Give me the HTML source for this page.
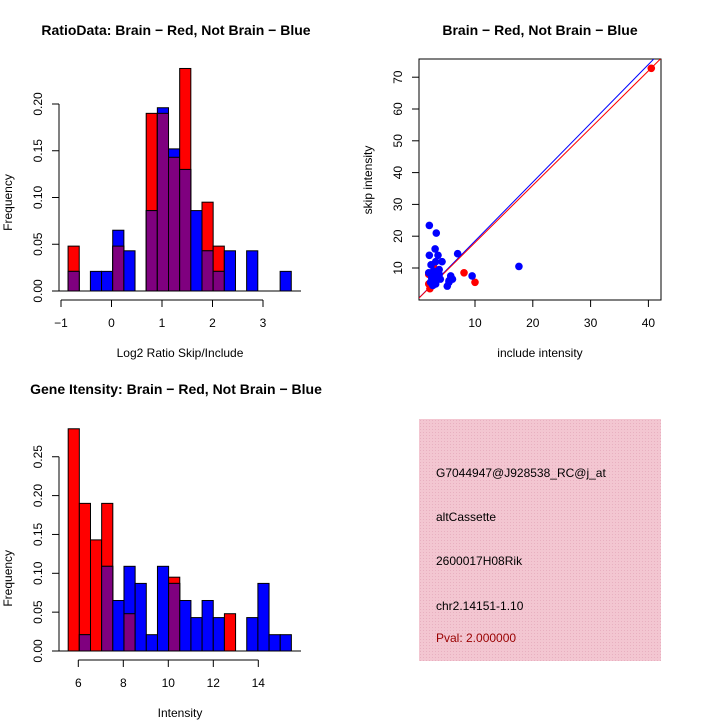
<!DOCTYPE html>
<html><head><meta charset="utf-8"><style>
body{margin:0;background:#fff;}
svg{display:block;font-family:"Liberation Sans",sans-serif;}
</style></head><body>
<svg id="c" width="720" height="720" viewBox="0 0 720 720">
<rect width="720" height="720" fill="#fff"/>
<defs><pattern id="hatch" width="3" height="3" patternUnits="userSpaceOnUse"><rect width="3" height="3" fill="#f3c6d1"/><rect width="1" height="1" fill="#e8b0c0"/></pattern></defs>
<g id="p1"></g>
<g id="p2"></g>
<g id="p3"></g>
<g>
<rect x="419" y="419" width="242" height="242" fill="url(#hatch)"/>
<text x="436" y="477" font-size="12">G7044947@J928538_RC@j_at</text>
<text x="436" y="521" font-size="12">altCassette</text>
<text x="436" y="565" font-size="12">2600017H08Rik</text>
<text x="436" y="610" font-size="12">chr2.14151-1.10</text>
<text x="436" y="642" font-size="12" fill="#990000">Pval: 2.000000</text>
</g>
</svg>
<script>
// Histogram 1 data
const h1Start = -0.86, h1Width = 0.221;
const h1Red  = [0.048,0,0,0,0.048,0,0,0.19,0.19,0.143,0.238,0,0.095,0.048,0,0,0,0,0,0];
const h1Blue = [0.021,0,0.021,0.021,0.065,0.043,0,0.086,0.196,0.152,0.13,0.086,0.043,0.021,0.043,0,0.043,0,0,0.021];
const h1XTicks = [-1,0,1,2,3];
const h1YTicks = ["0.00","0.05","0.10","0.15","0.20"];
// Histogram 2 data
const h2Start = 5.55, h2Width = 0.496;
const h2Red  = [0.286,0.19,0.143,0.19,0,0.048,0,0,0,0.095,0,0,0,0,0.048,0,0,0,0,0];
const h2Blue = [0,0.021,0,0.109,0.065,0.109,0.087,0.021,0.109,0.087,0.065,0.043,0.065,0.043,0,0,0.043,0.087,0.021,0.021];
const h2XTicks = [6,8,10,12,14];
const h2YTicks = ["0.00","0.05","0.10","0.15","0.20","0.25"];
// Scatter data
const blueX = [2.1,3.3,3.1,2.1,3.6,7,3.2,4.3,2.4,3.8,2,3.0,2.5,3.5,2.8,4.0,2.3,3.2,2.7,5.2,5.5,5.8,6.1,5.5,9.5,17.6,3.8,2.8];
const blueY = [23.4,21,16,14,14,14.5,12,12,11,9.5,8.5,8,7,7,6,6.5,5.5,5,4.5,4.3,6,7.5,6.5,5.5,7.5,10.5,8,9];
const redX = [2.2,2.0,2.8,8.1,10,40.5,2.0];
const redY = [3.5,5,10.5,8.5,5.5,72.8,8];
const blueSlope = 1.85, redSlope = 1.8;
const scXTicks = [10,20,30,40];
const scYTicks = [10,20,30,40,50,60,70];

const NS="http://www.w3.org/2000/svg";
function mk(parent,tag,attrs){const e=document.createElementNS(NS,tag);for(const k in attrs)e.setAttribute(k,attrs[k]);parent.appendChild(e);return e;}

function hist(g,start,w,red,blue,xt,yt,ystep,x0,x1,sx,y0,sy,axisY,title,titleY,xlab,xlabY){
  const X=v=>x0+(v-x1)*sx, Y=v=>y0-v*sy;
  for(let i=0;i<red.length;i++){
    const a=X(start+i*w), b=X(start+(i+1)*w);
    const r=red[i], bl=blue[i], m=Math.min(r,bl);
    if(r>0){const e=mk(g,'rect',{x:a,y:Y(r),width:b-a,height:r*sy,fill:'#ff0000',stroke:'#000','stroke-width':1});
      }
    if(bl>0){const e=mk(g,'rect',{x:a,y:Y(bl),width:b-a,height:bl*sy,fill:'#0000ff',stroke:'#000','stroke-width':1});
      }
    if(m>0){const e=mk(g,'rect',{x:a,y:Y(m),width:b-a,height:m*sy,fill:'#7f007f',stroke:'#000','stroke-width':1});
      }
  }
  // y axis
  const ya=mk(g,'line',{x1:59,x2:59,y1:Y(0),y2:Y((yt.length-1)*ystep),stroke:'#000'});
  
  yt.forEach((t,i)=>{const yy=Y(i*ystep);mk(g,'line',{x1:52,x2:59,y1:yy,y2:yy,stroke:'#000'});
    const e=mk(g,'text',{x:0,y:0,'font-size':12,'text-anchor':'middle',transform:`translate(42,${yy}) rotate(-90)`});e.textContent=t;
    });
  // baseline
  mk(g,'line',{x1:52,x2:301,y1:Y(0),y2:Y(0),stroke:'#000'});
  // x axis
  const xa=mk(g,'line',{x1:X(xt[0]),x2:X(xt[xt.length-1]),y1:axisY,y2:axisY,stroke:'#000'});
  
  xt.forEach(t=>{const xx=X(t);mk(g,'line',{x1:xx,x2:xx,y1:axisY,y2:axisY+7,stroke:'#000'});
    const e=mk(g,'text',{x:xx,y:axisY+27,'font-size':12,'text-anchor':'middle'});e.textContent=t<0?'\u2212'+(-t):t;
    });
  const tt=mk(g,'text',{x:176,y:titleY,'font-size':14,'font-weight':'bold','text-anchor':'middle'});tt.textContent=title;
  
  const xl=mk(g,'text',{x:180,y:xlabY,'font-size':12,'text-anchor':'middle'});xl.textContent=xlab;
  
  const yl=mk(g,'text',{x:0,y:0,'font-size':12,'text-anchor':'middle',transform:`translate(12,${(Y(0)+Y(0.2))/2+5}) rotate(-90)`});yl.textContent='Frequency';
  
}
hist(document.getElementById('p1'),h1Start,h1Width,h1Red,h1Blue,h1XTicks,h1YTicks,0.05,61,-1,50.5,291,935,300,'RatioData: Brain \u2212 Red, Not Brain \u2212 Blue',35,'Log2 Ratio Skip/Include',357);
hist(document.getElementById('p3'),h2Start,h2Width,h2Red,h2Blue,h2XTicks,h2YTicks,0.05,78.3,6,22.5,651,777,660,'Gene Itensity: Brain \u2212 Red, Not Brain \u2212 Blue',394,'Intensity',717);

// scatter
(function(){
  const g=document.getElementById('p2');
  const X=v=>417.2+v*5.78, Y=v=>299.8-v*3.18;
  const bx=mk(g,'rect',{x:419,y:59,width:242,height:241,fill:'none',stroke:'#000'});
  
  const cl=mk(g,'clipPath',{id:'scclip'});mk(cl,'rect',{x:419,y:59,width:242,height:241});
  const inner=mk(g,'g',{'clip-path':'url(#scclip)'});
  const lb=mk(inner,'line',{x1:X(0),y1:Y(0),x2:X(50),y2:Y(50*blueSlope),stroke:'#0000ff'});
  
  const lr=mk(inner,'line',{x1:X(0),y1:Y(0),x2:X(50),y2:Y(50*redSlope),stroke:'#ff0000'});
  
  redX.forEach((x,i)=>{const c=mk(g,'circle',{cx:X(x),cy:Y(redY[i]),r:3.8,fill:'#ff0000'});
    });
  blueX.forEach((x,i)=>{const c=mk(g,'circle',{cx:X(x),cy:Y(blueY[i]),r:3.8,fill:'#0000ff'});
    });
  scXTicks.forEach(t=>{const xx=X(t);mk(g,'line',{x1:xx,x2:xx,y1:300,y2:307,stroke:'#000'});
    const e=mk(g,'text',{x:xx,y:327,'font-size':12,'text-anchor':'middle'});e.textContent=t;
    });
  scYTicks.forEach(t=>{const yy=Y(t);mk(g,'line',{x1:412,x2:419,y1:yy,y2:yy,stroke:'#000'});
    const e=mk(g,'text',{x:0,y:0,'font-size':12,'text-anchor':'middle',transform:`translate(402,${yy}) rotate(-90)`});e.textContent=t;
    });
  const tt=mk(g,'text',{x:540,y:35,'font-size':14,'font-weight':'bold','text-anchor':'middle'});tt.textContent='Brain \u2212 Red, Not Brain \u2212 Blue';
  
  const xl=mk(g,'text',{x:540,y:357,'font-size':12,'text-anchor':'middle'});xl.textContent='include intensity';
  
  const yl=mk(g,'text',{x:0,y:0,'font-size':12,'text-anchor':'middle',transform:'translate(372,180) rotate(-90)'});yl.textContent='skip intensity';
  
})();
</script>
</body></html>
